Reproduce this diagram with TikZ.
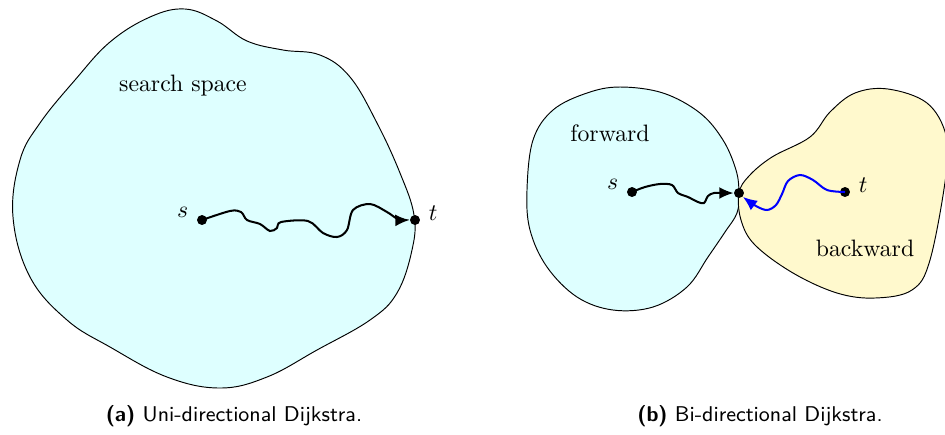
\documentclass[tikz,border=0pt]{standalone}
\usepackage{xcolor}
\usetikzlibrary{arrows.meta,positioning,calc}

\definecolor{forefill}{RGB}{222,255,255}
\definecolor{backfill}{RGB}{255,249,205}

\begin{document}
\begin{tikzpicture}[
    x=0.0148cm, y=-0.0148cm,
    region/.style={draw=black, line width=0.4pt},
    vertex/.style={circle, fill=black, inner sep=0pt, minimum size=4.2pt},
    route/.style={line width=0.85pt, -{Latex[length=6pt,width=5pt]}},
    caption/.style={font=\sffamily\small}
]
\useasboundingbox (0,0) rectangle (945,434);

% (a) Uni-directional
\path[region, fill=forefill] plot[smooth cycle, tension=0.65] coordinates {
    (150,17) (185,9) (217,21) (247,41) (283,50) (320,55) (350,77)
    (377,123) (400,173) (414,215) (412,250) (397,293) (370,320)
    (317,350) (267,377) (220,388) (167,377) (110,347) (67,320)
    (30,277) (13,217) (20,160) (40,123) (75,80) (110,42)};

\node at (183,86) {search space};

\node[vertex] (s1) at (202,220) {};
\node[vertex] (t1) at (415,220) {};
\node[left=0pt of s1, yshift=3pt] {$s$};
\node[right=0pt of t1, yshift=3pt] {$t$};

% wiggly path s -> t
\draw[route] plot[smooth, tension=0.55] coordinates {
    (s1) (230,211) (241,212) (247,220) (260,224) (270,231) (277,228)
    (281,222) (308,221) (323,233) (337,237) (347,230) (353,210)
    (370,204) (387,212) (398,219) (t1.west)};

% (b) Bi-directional
\path[region, fill=forefill] plot[smooth cycle, tension=0.6] coordinates {
    (533,140) (553,110) (587,93) (620,87) (663,93) (700,113) (723,140)
    (736,170) (739,193) (737,213) (725,232) (708,257) (687,287)
    (653,307) (613,310) (577,297) (547,267) (530,230) (527,190)};

\path[region, fill=backfill] plot[smooth cycle, tension=0.6] coordinates {
    (739,193) (749,176) (772,157) (810,137) (830,112) (855,93)
    (888,89) (927,103) (946,135) (946,175) (930,260) (912,290)
    (875,298) (837,293) (793,273) (755,245) (741,220)};

\node at (610,133) {forward};
\node at (865,248) {backward};

\node[vertex] (s2) at (632,192) {};
\node[vertex] (m) at (739,193) {};
\node[vertex] (t2) at (845,192) {};
\node[left=0pt of s2, yshift=3pt] {$s$};
\node[right=0pt of t2, yshift=3pt] {$t$};

% forward search
\draw[route] plot[smooth, tension=0.55] coordinates {
    (s2) (645,187) (660,184) (672,185) (678,193) (688,197) (698,202)
    (704,203) (708,196) (714,193) (725,193) (m.west)};

% backward search
\draw[route, blue] plot[smooth, tension=0.55] coordinates {
    (t2) (827,190) (813,180) (800,175) (788,181) (782,194) (776,205)
    (767,210) (756,206) (m.south east)};

% captions
\node[caption] (capa) at (234,416) {\textbf{(a)} Uni-directional Dijkstra.};
\node[caption] (capb) at (760,416) {\textbf{(b)} Bi-directional Dijkstra.};

\end{tikzpicture}
\end{document}
